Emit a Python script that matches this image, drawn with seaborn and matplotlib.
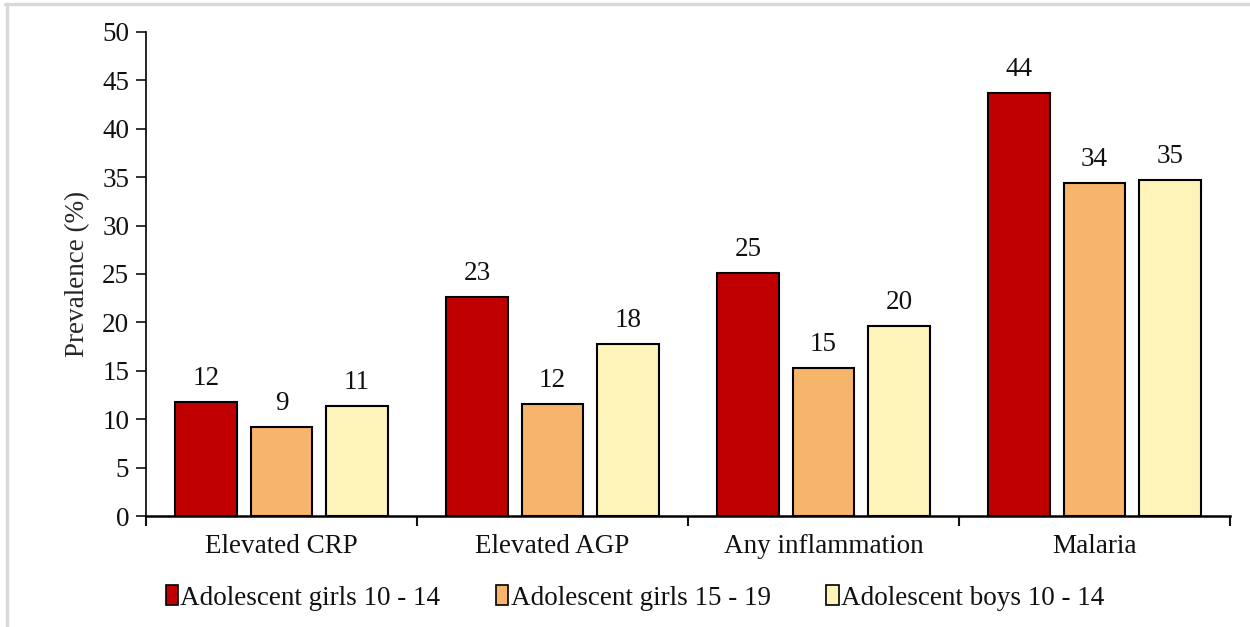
import pandas as pd
import numpy as np
import matplotlib
matplotlib.use("Agg")
import matplotlib.pyplot as plt
from matplotlib.lines import Line2D
import seaborn as sns

# values
categories = ['Elevated CRP', 'Elevated AGP', 'Any inflammation', 'Malaria']
groups = ['Adolescent girls 10 - 14', 'Adolescent girls 15 - 19', 'Adolescent boys 10 - 14']
girls_10_14 = [11.8, 22.6, 25.1, 43.7]
girls_15_19 = [9.2, 11.6, 15.3, 34.4]
boys_10_14 = [11.4, 17.8, 19.6, 34.7]
colors = ['#C00000', '#F7B46B', '#FEF4BA']

# long table for seaborn
rows = []
for g, vals in zip(groups, [girls_10_14, girls_15_19, boys_10_14]):
    for c, v in zip(categories, vals):
        rows.append({'Category': c, 'Group': g, 'Prevalence': v})
df = pd.DataFrame(rows)

sns.set_theme(style='white')
plt.rcParams['font.family'] = ['Liberation Serif', 'DejaVu Serif']
plt.rcParams['text.color'] = '#111111'
plt.rcParams['xtick.color'] = '#111111'
plt.rcParams['ytick.color'] = '#111111'
FS = 19.5

fig = plt.figure(figsize=(12.5, 6.27), dpi=100)
ax = fig.add_axes([0.1168, 0.177, 0.8672, 0.772])

sns.barplot(data=df, x='Category', y='Prevalence', hue='Group', order=categories,
            hue_order=groups, palette=colors, saturation=1, width=0.836, gap=0.19,
            edgecolor='black', linewidth=1.5, errorbar=None, ax=ax)

for cont in ax.containers:
    ax.bar_label(cont, labels=[f'{round(b.get_height()):d}' for b in cont],
                 padding=8, fontsize=FS, color='#111111')

ax.set_ylim(0, 50)
ax.set_xlim(-0.5, 3.5)
ax.set_yticks(np.arange(0, 51, 5))
ax.tick_params(axis='y', labelsize=FS, length=7, width=1.2, direction='out', left=True, pad=5)

# group separators as major ticks, labels on minor ticks
ax.set_xticks(np.arange(-0.5, 3.6, 1.0))
ax.set_xticklabels([])
ax.set_xticks(np.arange(0, 4), minor=True)
ax.set_xticklabels(categories, minor=True)
ax.tick_params(axis='x', which='major', length=7, width=1.5, direction='out', bottom=True)
ax.tick_params(axis='x', which='minor', length=0, labelsize=FS, pad=13)

ax.set_xlabel('')
ax.set_ylabel('Prevalence (%)', fontsize=FS, labelpad=9)

for s in ['top', 'right']:
    ax.spines[s].set_visible(False)
ax.spines['left'].set_color('black')
ax.spines['left'].set_linewidth(1.2)
ax.spines['bottom'].set_color('black')
ax.spines['bottom'].set_linewidth(1.8)

ax.legend(loc='center', bbox_to_anchor=(0.508, 0.046), bbox_transform=fig.transFigure,
          ncol=3, frameon=False, fontsize=FS, handlelength=0.45, handleheight=0.75,
          handletextpad=0.1, columnspacing=2.05)
for h in ax.get_legend().get_patches():
    h.set_linewidth(1.2)

# light grey frame edges as in the source
fig.add_artist(Line2D([0.004, 1.0], [0.993, 0.993], color='#D9D9D9', lw=2.5, transform=fig.transFigure))
fig.add_artist(Line2D([0.0056, 0.0056], [0.0, 0.993], color='#D9D9D9', lw=2.5, transform=fig.transFigure))

fig.savefig('out.png', dpi=100)
